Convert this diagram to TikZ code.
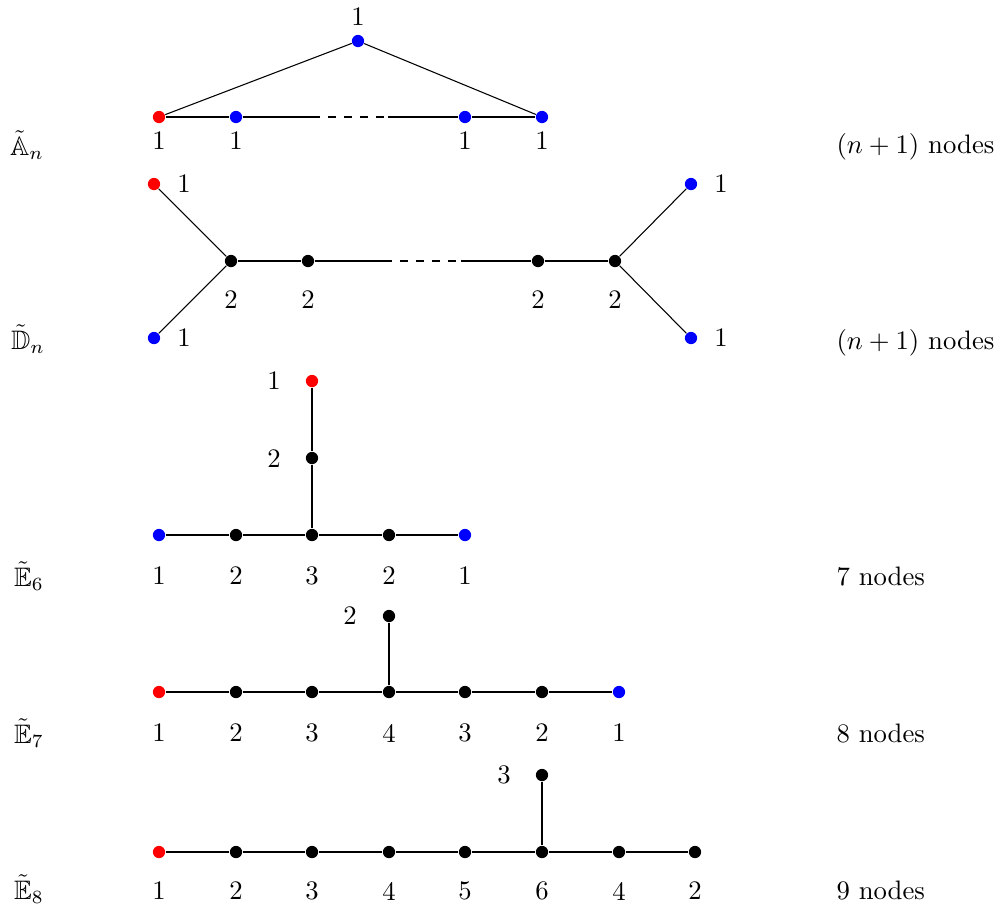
\documentclass[tikz,border=0pt]{standalone}
\usepackage{amssymb}
\begin{document}
\begin{tikzpicture}[x=0.3745pt,y=-0.3745pt,
  dot/.style={circle,inner sep=0pt,minimum size=4.6pt,fill=#1},
  dot/.default=black,
  lbl/.style={inner sep=0pt},
  gname/.style={inner sep=0pt,anchor=base},
  gcount/.style={inner sep=0pt,anchor=base west},
  edge/.style={line width=0.4pt},
  dashline/.style={line width=0.4pt,dash pattern=on 3pt off 3pt,dash phase=3pt}]
\useasboundingbox (0,0) rectangle (1000,906);
% ---- A_n ----
\node[dot=blue] (a0) at (358,41) {};
\node[dot=red] (a1) at (159,117) {};
\node[dot=blue] (a2) at (236,117) {};
\node[dot=blue] (a3) at (465,117) {};
\node[dot=blue] (a4) at (542,117) {};
\coordinate (ad1) at (320,117);
\coordinate (ad2) at (388,117);
\draw[edge] (a1) -- (a0) -- (a4);
\draw[edge] (a1) -- (a2) -- (ad1);
\draw[dashline] (ad1) -- (ad2);
\draw[edge] (ad2) -- (a3) -- (a4);
\node[lbl] (la0) at (358,17) {1};
\node[lbl] (la1) at (159,141) {1};
\node[lbl] (la2) at (236,141) {1};
\node[lbl] (la3) at (465,141) {1};
\node[lbl] (la4) at (542,141) {1};
\node[gname] (tA) at (27,155) {$\tilde{\mathbb{A}}_n$};
\node[gcount] (nA) at (836,153) {$(n+1)$ nodes};
% ---- D_n ----
\node[dot=red] (d1) at (154,184) {};
\node[dot=blue] (d2) at (154,338) {};
\node[dot] (d3) at (231,261) {};
\node[dot] (d4) at (308,261) {};
\node[dot] (d5) at (538,261) {};
\node[dot] (d6) at (615,261) {};
\node[dot=blue] (d7) at (691,184) {};
\node[dot=blue] (d8) at (691,338) {};
\coordinate (dd1) at (392,261);
\coordinate (dd2) at (461,261);
\draw[edge] (d1) -- (d3) -- (d2);
\draw[edge] (d3) -- (d4) -- (dd1);
\draw[dashline] (dd1) -- (dd2);
\draw[edge] (dd2) -- (d5) -- (d6);
\draw[edge] (d7) -- (d6) -- (d8);
\node[lbl] (ld1) at (184,184) {1};
\node[lbl] (ld2) at (184,338) {1};
\node[lbl] (ld3) at (231,300) {2};
\node[lbl] (ld4) at (308,300) {2};
\node[lbl] (ld5) at (538,300) {2};
\node[lbl] (ld6) at (615,300) {2};
\node[lbl] (ld7) at (721,184) {1};
\node[lbl] (ld8) at (721,338) {1};
\node[gname] (tD) at (28,349) {$\tilde{\mathbb{D}}_n$};
\node[gcount] (nD) at (836,349) {$(n+1)$ nodes};
% ---- E6 ----
\node[dot=red] (e61) at (312,381) {};
\node[dot] (e62) at (312,458) {};
\node[dot=blue] (e63) at (159,535) {};
\node[dot] (e64) at (236,535) {};
\node[dot] (e65) at (312,535) {};
\node[dot] (e66) at (389,535) {};
\node[dot=blue] (e67) at (465,535) {};
\draw[edge] (e61) -- (e62) -- (e65);
\draw[edge] (e63) -- (e64) -- (e65) -- (e66) -- (e67);
\node[lbl] (le61) at (274,381) {1};
\node[lbl] (le62) at (274,459) {2};
\node[lbl] (le63) at (159,576) {1};
\node[lbl] (le64) at (236,576) {2};
\node[lbl] (le65) at (312,576) {3};
\node[lbl] (le66) at (389,576) {2};
\node[lbl] (le67) at (465,576) {1};
\node[gname] (tE6) at (29,586) {$\tilde{\mathbb{E}}_6$};
\node[gcount] (nE6) at (836,585) {7 nodes};
% ---- E7 ----
\node[dot] (e7t) at (389,616) {};
\node[dot=red] (e71) at (159,692) {};
\node[dot] (e72) at (236,692) {};
\node[dot] (e73) at (312,692) {};
\node[dot] (e74) at (389,692) {};
\node[dot] (e75) at (465,692) {};
\node[dot] (e76) at (542,692) {};
\node[dot=blue] (e77) at (619,692) {};
\draw[edge] (e7t) -- (e74);
\draw[edge] (e71) -- (e72) -- (e73) -- (e74) -- (e75) -- (e76) -- (e77);
\node[lbl] (le7t) at (350,616) {2};
\node[lbl] (le71) at (159,733) {1};
\node[lbl] (le72) at (236,733) {2};
\node[lbl] (le73) at (312,733) {3};
\node[lbl] (le74) at (389,733) {4};
\node[lbl] (le75) at (465,733) {3};
\node[lbl] (le76) at (542,733) {2};
\node[lbl] (le77) at (619,733) {1};
\node[gname] (tE7) at (29,743) {$\tilde{\mathbb{E}}_7$};
\node[gcount] (nE7) at (836,742) {8 nodes};
% ---- E8 ----
\node[dot] (e8t) at (542,775) {};
\node[dot=red] (e81) at (159,852) {};
\node[dot] (e82) at (236,852) {};
\node[dot] (e83) at (312,852) {};
\node[dot] (e84) at (389,852) {};
\node[dot] (e85) at (465,852) {};
\node[dot] (e86) at (542,852) {};
\node[dot] (e87) at (619,852) {};
\node[dot] (e88) at (695,852) {};
\draw[edge] (e8t) -- (e86);
\draw[edge] (e81) -- (e82) -- (e83) -- (e84) -- (e85) -- (e86) -- (e87) -- (e88);
\node[lbl] (le8t) at (504,775) {3};
\node[lbl] (le81) at (159,891) {1};
\node[lbl] (le82) at (236,891) {2};
\node[lbl] (le83) at (312,891) {3};
\node[lbl] (le84) at (389,891) {4};
\node[lbl] (le85) at (465,891) {5};
\node[lbl] (le86) at (542,891) {6};
\node[lbl] (le87) at (619,891) {4};
\node[lbl] (le88) at (695,891) {2};
\node[gname] (tE8) at (29,899) {$\tilde{\mathbb{E}}_8$};
\node[gcount] (nE8) at (836,899) {9 nodes};
\end{tikzpicture}
\end{document}
